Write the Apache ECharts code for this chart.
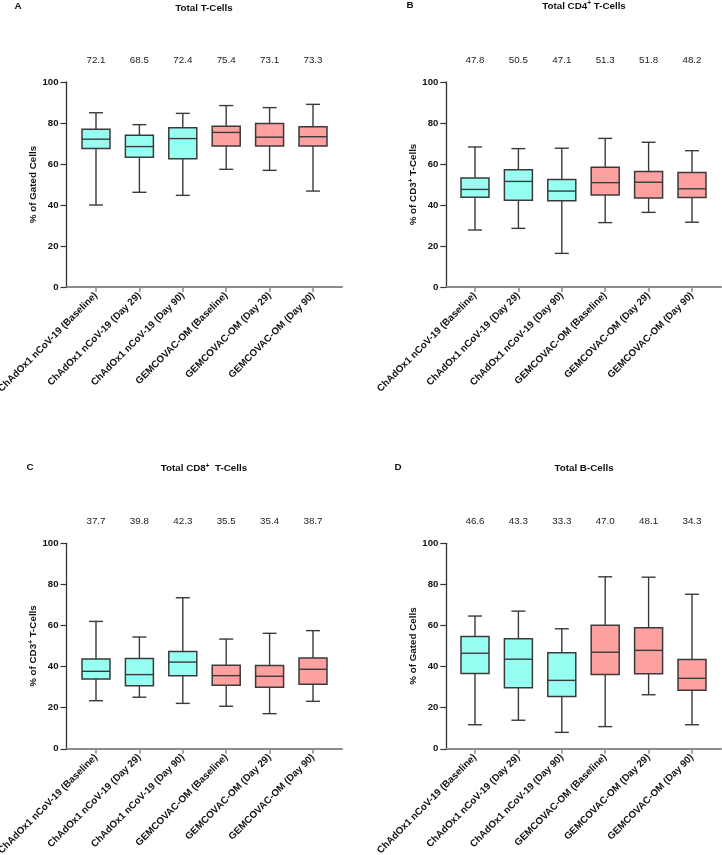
<!DOCTYPE html>
<html><head><meta charset="utf-8">
<script src="https://cdn.jsdelivr.net/npm/echarts@6/dist/echarts.min.js"></script>
<style>html,body{margin:0;padding:0;background:#fff}#c{width:722px;height:855px}</style>
</head><body><div id="c"></div><script>
const categories = ['ChAdOx1 nCoV-19 (Baseline)', 'ChAdOx1 nCoV-19 (Day 29)', 'ChAdOx1 nCoV-19 (Day 90)', 'GEMCOVAC-OM (Baseline)', 'GEMCOVAC-OM (Day 29)', 'GEMCOVAC-OM (Day 90)'];
const vaccineGroup = [0, 0, 0, 1, 1, 1];
const groupColors = ['#96FFF2', '#FFA0A0'];
const yTicks = [0, 20, 40, 60, 80, 100];

// each row: [min, Q1, median, Q3, max]
const tCellsBoxes = [
  [40.0, 67.6, 72.1, 76.9, 85.0],
  [46.2, 63.3, 68.5, 74.0, 79.2],
  [44.7, 62.6, 72.4, 77.7, 84.7],
  [57.4, 68.8, 75.4, 78.4, 88.5],
  [56.9, 68.8, 73.1, 79.8, 87.5],
  [46.8, 68.8, 73.3, 78.2, 89.1]
];
const tCellsLabels = ['72.1', '68.5', '72.4', '75.4', '73.1', '73.3'];

const cd4Boxes = [
  [27.8, 43.8, 47.6, 53.2, 68.3],
  [28.6, 42.3, 51.5, 57.2, 67.5],
  [16.4, 42.1, 46.8, 52.4, 67.7],
  [31.4, 44.9, 50.9, 58.4, 72.5],
  [36.4, 43.4, 51.1, 56.4, 70.6],
  [31.6, 43.6, 47.9, 55.9, 66.5]
];
const cd4Labels = ['47.8', '50.5', '47.1', '51.3', '51.8', '48.2'];

const cd8Boxes = [
  [23.4, 34.0, 37.7, 43.7, 62.0],
  [25.1, 30.7, 36.1, 43.9, 54.4],
  [22.1, 35.6, 42.2, 47.4, 73.5],
  [20.7, 30.9, 35.6, 40.6, 53.4],
  [17.1, 29.9, 35.3, 40.5, 56.2],
  [23.1, 31.4, 38.7, 44.2, 57.5]
];
const cd8Labels = ['37.7', '39.8', '42.3', '35.5', '35.4', '38.7'];

const bCellsBoxes = [
  [11.7, 36.7, 46.5, 54.6, 64.6],
  [13.9, 29.7, 43.6, 53.6, 67.0],
  [8.0, 25.5, 33.3, 46.8, 58.4],
  [10.8, 36.1, 47.0, 60.1, 83.7],
  [26.3, 36.5, 47.9, 58.9, 83.5],
  [11.7, 28.5, 34.3, 43.4, 75.2]
];
const bCellsLabels = ['46.6', '43.3', '33.3', '47.0', '48.1', '34.3'];

const panelLetters = ['A', 'B', 'C', 'D'];
const panelTitles = [
  '{b|Total T-Cells}',
  '{b|Total CD4}{s|+}{b| T-Cells}',
  '{b|Total CD8}{s|+}{b|  T-Cells}',
  '{b|Total B-Cells}'
];
const panelYNames = [
  '{b|% of Gated Cells}',
  '{b|% of CD3}{s|+}{b| T-Cells}',
  '{b|% of CD3}{s|+}{b| T-Cells}',
  '{b|% of Gated Cells}'
];
const panelBoxes = [tCellsBoxes, cd4Boxes, cd8Boxes, bCellsBoxes];
const panelLabels = [tCellsLabels, cd4Labels, cd8Labels, bCellsLabels];

// layout (styling only)
const layout = [
  {axisX: 66.5, endX: 342, innerL: 74.3, top: 82, h: 205, letterX: 18, letterY: 7, titleX: 204, titleY: 8},
  {axisX: 446.3, endX: 721, innerL: 453.3, top: 82, h: 205, letterX: 410, letterY: 6, titleX: 584, titleY: 6},
  {axisX: 66.5, endX: 342, innerL: 74.3, top: 543.3, h: 205.5, letterX: 30, letterY: 468, titleX: 204, titleY: 468.5},
  {axisX: 446.3, endX: 721, innerL: 453.3, top: 543.3, h: 205.5, letterX: 398, letterY: 468, titleX: 584, titleY: 468}
];
const FONT = 'Liberation Sans, Arial, Helvetica, sans-serif';
const rich = {
  b: {fontSize: 9.8, fontWeight: 'bold', fontFamily: FONT, color: '#111', lineHeight: 12},
  s: {fontSize: 6.5, fontWeight: 'bold', fontFamily: FONT, color: '#111', verticalAlign: 'top', lineHeight: 12}
};

function renderBox(params, api) {
  const x = api.value(0);
  const lo = api.coord([x, api.value(1)]);
  const q1 = api.coord([x, api.value(2)]);
  const md = api.coord([x, api.value(3)]);
  const q3 = api.coord([x, api.value(4)]);
  const hi = api.coord([x, api.value(5)]);
  const band = api.size([1, 0])[0];
  const bw = band * 0.645;
  const cw = bw * 0.5;
  const cx = lo[0];
  const fill = groupColors[vaccineGroup[params.dataIndex]];
  const stroke = '#3a3a3a';
  const ls = {stroke: stroke, lineWidth: 1.4};
  return {
    type: 'group',
    children: [
      {type: 'line', shape: {x1: cx, y1: lo[1], x2: cx, y2: q1[1]}, style: ls},
      {type: 'line', shape: {x1: cx, y1: q3[1], x2: cx, y2: hi[1]}, style: ls},
      {type: 'line', shape: {x1: cx - cw / 2, y1: lo[1], x2: cx + cw / 2, y2: lo[1]}, style: ls},
      {type: 'line', shape: {x1: cx - cw / 2, y1: hi[1], x2: cx + cw / 2, y2: hi[1]}, style: ls},
      {type: 'rect', shape: {x: cx - bw / 2, y: q3[1], width: bw, height: q1[1] - q3[1]}, style: {fill: fill, stroke: stroke, lineWidth: 1.5}},
      {type: 'line', shape: {x1: cx - bw / 2, y1: md[1], x2: cx + bw / 2, y2: md[1]}, style: ls}
    ]
  };
}

const grid = [], xAxis = [], yAxis = [], series = [], title = [];
layout.forEach((L, p) => {
  const outer = p * 2, inner = p * 2 + 1;
  grid.push({left: L.axisX, top: L.top, width: L.endX - L.axisX, height: L.h, containLabel: false, outerBoundsMode: 'none'});
  grid.push({left: L.innerL, top: L.top, width: 43.4 * 6, height: L.h, containLabel: false, outerBoundsMode: 'none'});
  title.push({text: panelLetters[p], left: L.letterX, top: L.letterY - 6, textAlign: 'center', padding: 0,
    textStyle: {fontSize: 9.8, fontWeight: 'bold', fontFamily: FONT, color: '#111'}});
  title.push({text: panelTitles[p], left: L.titleX, top: L.titleY - 6, textAlign: 'center', padding: 0,
    textStyle: {rich: rich}});
  // outer x (baseline line only)
  xAxis.push({type: 'value', gridIndex: outer, min: 0, max: 1, position: 'bottom',
    axisLine: {show: true, lineStyle: {color: '#8c8c8c', width: 2}},
    axisTick: {show: false}, axisLabel: {show: false}, splitLine: {show: false}});
  // inner category axis
  xAxis.push({type: 'category', gridIndex: inner, data: categories, position: 'bottom', boundaryGap: true,
    axisLine: {show: false},
    axisTick: {show: true, alignWithLabel: true, length: 5, lineStyle: {color: '#8c8c8c', width: 1.5}},
    axisLabel: {interval: 0, rotate: 45, margin: 7, fontSize: 9.8, fontWeight: 'bold', fontFamily: FONT, color: '#111'},
    splitLine: {show: false}});
  // top median labels
  xAxis.push({type: 'category', gridIndex: inner, data: panelLabels[p], position: 'top', offset: 9, boundaryGap: true,
    axisLine: {show: false}, axisTick: {show: false},
    axisLabel: {interval: 0, margin: 8, fontSize: 9.8, fontFamily: FONT, color: '#222'},
    splitLine: {show: false}});
  yAxis.push({type: 'value', gridIndex: outer, min: yTicks[0], max: yTicks[yTicks.length - 1], interval: 20,
    name: panelYNames[p], nameLocation: 'middle', nameGap: 27, nameTextStyle: {rich: rich},
    axisLine: {show: true, lineStyle: {color: '#333', width: 1.3}},
    axisTick: {show: true, length: 6, lineStyle: {color: '#333', width: 1.2}},
    axisLabel: {margin: 8, fontSize: 9.6, fontWeight: 'bold', fontFamily: FONT, color: '#111'},
    splitLine: {show: false}});
  yAxis.push({type: 'value', gridIndex: inner, min: 0, max: 100, show: false});
  series.push({
    type: 'custom', xAxisIndex: p * 3 + 1, yAxisIndex: inner,
    renderItem: renderBox,
    encode: {x: 0, y: [1, 2, 3, 4, 5]},
    data: panelBoxes[p].map((r, i) => [i].concat(r)),
    clip: false, silent: true
  });
});

const chart = echarts.init(document.getElementById('c'), null, {renderer: 'canvas'});
chart.setOption({animation: false, backgroundColor: '#fff', title, grid, xAxis, yAxis, series});
</script></body></html>
